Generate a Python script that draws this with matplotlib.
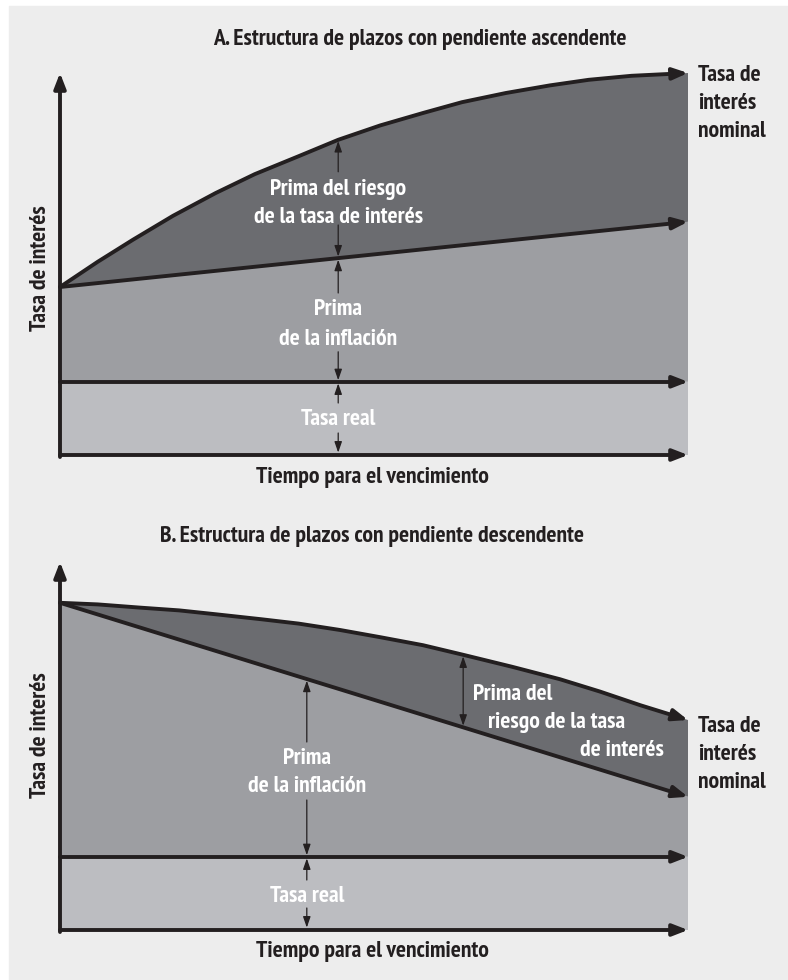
import numpy as np
import matplotlib
matplotlib.use("Agg")
import matplotlib.pyplot as plt
import matplotlib.patches as mpatches
import matplotlib.patheffects as pe
from matplotlib import font_manager as fm
from matplotlib.path import Path

# ---- data (time 0..10, rate in arbitrary units) ----
tiempo_nom_a = [0, 0.6, 1.16, 1.8, 2.48, 3.1, 3.8, 4.43, 5.1, 5.78, 6.4, 7.1, 7.8, 8.42, 9.1, 9.75, 10]
nominal_a = [4.2, 4.83, 5.38, 5.98, 6.55, 7.02, 7.47, 7.88, 8.24, 8.55, 8.82, 9.05, 9.24, 9.38, 9.48, 9.53, 9.55]
tiempo_inf_a = [0, 10]
inflacion_a = [4.2, 5.83]

tiempo_nom_b = [0, 0.6, 1.27, 1.9, 2.5, 3.2, 3.8, 4.46, 5.1, 5.78, 6.42, 7.2, 7.96, 8.6, 9.24, 10]
nominal_b = [8.18, 8.14, 8.06, 7.99, 7.89, 7.77, 7.66, 7.5, 7.32, 7.12, 6.88, 6.58, 6.27, 5.96, 5.62, 5.25]
tiempo_inf_b = [0, 10]
inflacion_b = [8.18, 3.33]

tiempo_real = [0, 10]
tasa_real = [1.83, 1.83]

titulos = ["A. Estructura de plazos con pendiente ascendente",
           "B. Estructura de plazos con pendiente descendente"]
eje_x = "Tiempo para el vencimiento"
eje_y = "Tasa de interés"
nominal_lbl = ["Tasa de", "interés", "nominal"]

# ---- style ----
BG = "#ededed"
DARK = "#6b6c70"
MID = "#9d9ea2"
LIGHT = "#bcbdc1"
INK = "#231f20"
W, H = 788, 980


def peso(w):
    if isinstance(w, str):
        return fm.weight_dict.get(w, 400)
    return w


# look for a narrow / condensed face, bold if possible
estrechas = [f for f in fm.fontManager.ttflist
             if ('Narrow' in f.name or 'Condensed' in f.name or 'condensed' in str(f.stretch))
             and f.style == 'normal']
negritas = [f for f in estrechas if peso(f.weight) >= 600]
EMBOLDEN = False
if negritas:
    negritas.sort(key=lambda f: (abs(peso(f.weight) - 700), 'Narrow' not in f.name))
    FP = fm.FontProperties(fname=negritas[0].fname)
elif estrechas:
    estrechas.sort(key=lambda f: abs(peso(f.weight) - 500))
    FP = fm.FontProperties(fname=estrechas[0].fname)
    EMBOLDEN = True
else:
    FP = fm.FontProperties(family=['Liberation Sans', 'DejaVu Sans'], weight='bold')


def fx(x):
    return x / W


def fy(y):
    return 1 - y / H


fig = plt.figure(figsize=(W / 100, H / 100), dpi=100)
fig.patch.set_facecolor('white')

# font size chosen so the x label is about as wide as in the picture (~254 px)
prueba = fig.text(0, 0, eje_x, fontproperties=FP, fontsize=15)
ancho = prueba.get_window_extent(fig.canvas.get_renderer()).width
prueba.remove()
FS = min(17, 15 * 252 / ancho)


def rotulo(obj, x, y, s, color, **kw):
    efectos = [pe.withStroke(linewidth=0.9, foreground=color)] if EMBOLDEN else []
    return obj.text(x, y, s, color=color, fontproperties=FP, fontsize=FS,
                    path_effects=efectos, **kw)


def thick_arrow(ax, xs, ys):
    path = Path(np.column_stack([xs, ys]))
    arr = mpatches.FancyArrowPatch(path=path, arrowstyle='-|>,head_length=0.9,head_width=0.35',
                                   mutation_scale=10, lw=2.8, color=INK,
                                   transform=ax.transData, clip_on=False)
    ax.add_artist(arr)


def thin_arrow(ax, x, y0, y1, style='-|>'):
    ax.annotate('', xy=(x, y1), xytext=(x, y0),
                arrowprops=dict(arrowstyle=style + ',head_length=1.3,head_width=0.45',
                                mutation_scale=5, lw=0.9, color=INK,
                                shrinkA=0, shrinkB=0))


def base_panel(ax, t_nom, nom, t_inf, inf, ytip):
    ax.set_xlim(0, 10)
    ax.set_ylim(0, 10)
    ax.axis('off')
    ax.fill_between(tiempo_real, 0, tasa_real, color=LIGHT, lw=0)
    ax.fill(np.r_[t_inf, t_inf[::-1]], np.r_[tasa_real, inf[::-1]], color=MID, lw=0)
    ax.fill(np.r_[t_nom, t_inf[::-1]], np.r_[nom, inf[::-1]], color=DARK, lw=0)
    thick_arrow(ax, t_nom, nom)
    thick_arrow(ax, t_inf, inf)
    thick_arrow(ax, tiempo_real, tasa_real)
    thick_arrow(ax, [0, 10], [0, 0])
    thick_arrow(ax, [0, 0], [-0.05, ytip])


fig.add_artist(mpatches.Rectangle((fx(9), 0), 1, fy(6), transform=fig.transFigure,
                                  color=BG, zorder=-10))

ax_a = fig.add_axes([fx(60), fy(455), 628 / W, 400 / H])
ax_b = fig.add_axes([fx(60), fy(930), 628 / W, 400 / H])
for a in (ax_a, ax_b):
    a.patch.set_alpha(0)

# ---- panel A ----
base_panel(ax_a, np.array(tiempo_nom_a, float), np.array(nominal_a),
           np.array(tiempo_inf_a, float), np.array(inflacion_a), 9.55)
xa = 4.43
inf_at = np.interp(xa, tiempo_inf_a, inflacion_a)
nom_at = np.interp(xa, tiempo_nom_a, nominal_a)
thin_arrow(ax_a, xa, 7.08, nom_at - 0.03)
thin_arrow(ax_a, xa, 5.75, inf_at + 0.04)
rotulo(ax_a, xa, 6.51, "Prima del riesgo", 'white', ha='center', va='baseline')
rotulo(ax_a, xa, 5.81, "de la tasa de interés", 'white', ha='center', va='baseline')
thin_arrow(ax_a, xa, 4.05, inf_at - 0.04)
thin_arrow(ax_a, xa, 2.58, tasa_real[0] + 0.04)
rotulo(ax_a, xa, 3.49, "Prima", 'white', ha='center', va='baseline')
rotulo(ax_a, xa, 2.76, "de la inflación", 'white', ha='center', va='baseline')
thin_arrow(ax_a, xa, 1.3, tasa_real[0] - 0.04)
thin_arrow(ax_a, xa, 0.55, 0.06)
rotulo(ax_a, xa, 0.74, "Tasa real", 'white', ha='center', va='baseline')
for lbl, yb in zip(nominal_lbl, [9.36, 8.64, 7.96]):
    rotulo(ax_a, 10.16, yb, lbl, INK, ha='left', va='baseline')

# ---- panel B ----
base_panel(ax_b, np.array(tiempo_nom_b, float), np.array(nominal_b),
           np.array(tiempo_inf_b, float), np.array(inflacion_b), 9.2)
xr = 6.42
thin_arrow(ax_b, xr, np.interp(xr, tiempo_inf_b, inflacion_b) + 0.04,
           np.interp(xr, tiempo_nom_b, nominal_b) - 0.04, style='<|-|>')
rotulo(ax_b, 6.58, 5.74, "Prima del", 'white', ha='left', va='baseline')
rotulo(ax_b, 6.82, 5.04, "riesgo de la tasa", 'white', ha='left', va='baseline')
rotulo(ax_b, 9.62, 4.34, "de interés", 'white', ha='right', va='baseline')
xb = 3.93
thin_arrow(ax_b, xb, 4.7, np.interp(xb, tiempo_inf_b, inflacion_b) - 0.04)
thin_arrow(ax_b, xb, 3.25, tasa_real[0] + 0.04)
rotulo(ax_b, xb, 4.14, "Prima", 'white', ha='center', va='baseline')
rotulo(ax_b, xb, 3.44, "de la inflación", 'white', ha='center', va='baseline')
thin_arrow(ax_b, xb, 1.25, tasa_real[0] - 0.04)
thin_arrow(ax_b, xb, 0.55, 0.06)
rotulo(ax_b, xb, 0.69, "Tasa real", 'white', ha='center', va='baseline')
for lbl, yb in zip(nominal_lbl, [4.94, 4.24, 3.54]):
    rotulo(ax_b, 10.16, yb, lbl, INK, ha='left', va='baseline')

# ---- titles and axis labels ----
rotulo(fig, fx(420), fy(45), titulos[0], INK, ha='center', va='baseline')
rotulo(fig, fx(372), fy(542), titulos[1], INK, ha='center', va='baseline')
rotulo(fig, fx(372), fy(483), eje_x, INK, ha='center', va='baseline')
rotulo(fig, fx(372), fy(957), eje_x, INK, ha='center', va='baseline')
rotulo(fig, fx(40), fy(268), eje_y, INK, ha='center', va='center', rotation=90)
rotulo(fig, fx(40), fy(735), eje_y, INK, ha='center', va='center', rotation=90)

fig.savefig("out.png", dpi=100, facecolor=fig.get_facecolor())
